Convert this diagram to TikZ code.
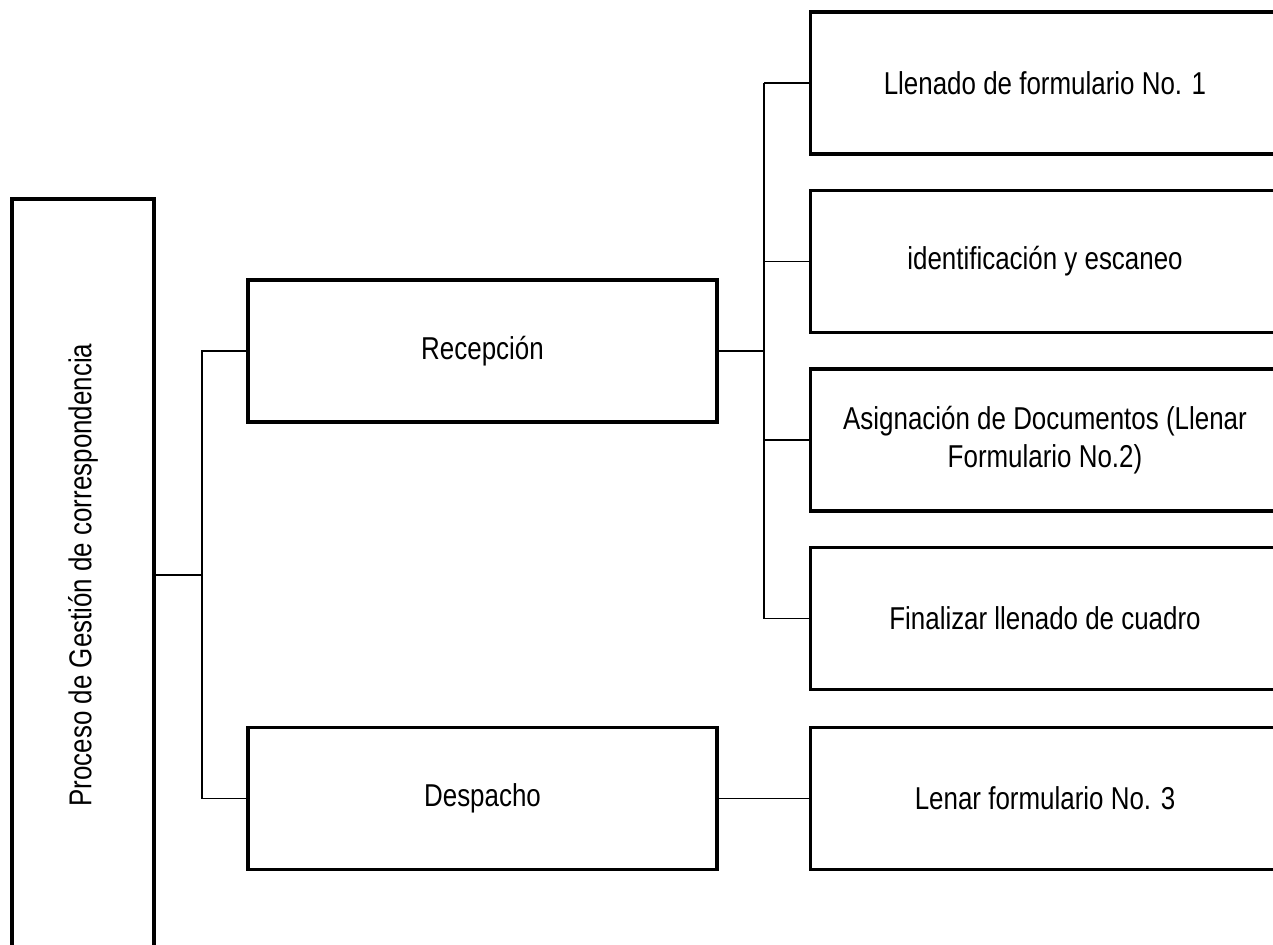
\documentclass[tikz,border=0pt]{standalone}
\usepackage{fontspec}
\setmainfont{Liberation Sans}[FakeStretch=0.82]
\tikzset{
  box/.style={draw,line width=1.9pt,minimum width=9.38cm,minimum height=2.84cm,align=center,inner sep=2pt,font=\fontsize{18}{21.5}\selectfont},
  link/.style={line width=1.1pt}
}
\begin{document}
\begin{tikzpicture}[x=0.02cm,y=-0.02cm]
\useasboundingbox (0,0) rectangle (1273,945);
\clip (0,0) rectangle (1273,945);
% main process, left column
\node[box,minimum width=2.84cm,minimum height=15.04cm] (proc) at (83,575) {\rotatebox{90}{Proceso de Gestión de correspondencia}};
\node[box] (recep) at (482.5,351) {Recepción};
\node[box] (desp) at (482.5,798.5) {Despacho};
% steps
\node[box] (llen) at (1045,83) {Llenado de formulario No. 1};
\node[box] (ident) at (1045,261.5) {identificación y escaneo};
\node[box] (asig) at (1045,440) {Asignación de Documentos (Llenar\\Formulario No.2)};
\node[box] (final) at (1045,618.5) {Finalizar llenado de cuadro};
\node[box] (lenar) at (1045,798.5) {Lenar formulario No. 3};
\coordinate (j0) at (202,575);
\coordinate (j1) at (764,351);
\draw[link] (proc.east) -- (j0);
\draw[link] (recep.west) -| (j0) |- (desp.west);
\draw[link] (recep.east) -- (j1);
\draw[link] (j1 |- llen.west) -- (j1 |- final.west);
\foreach \n in {llen,ident,asig,final}
  \draw[link] (j1 |- \n.west) -- (\n.west);
\draw[link] (desp.east) -- (lenar.west);
\end{tikzpicture}
\end{document}
